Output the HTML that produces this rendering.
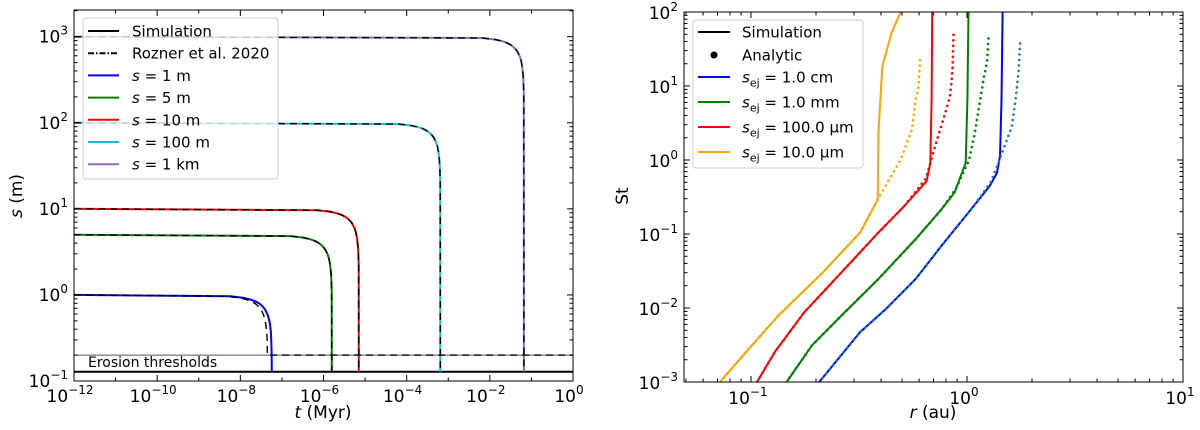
<!DOCTYPE html>
<html><head><meta charset="utf-8">
<style>
html,body{margin:0;padding:0;background:#fff;}
svg{display:block;font-family:"DejaVu Sans","Liberation Sans",sans-serif;}
</style></head>
<body>
<svg id="fig" width="1200" height="430" viewBox="0 0 1200 430" xmlns="http://www.w3.org/2000/svg"></svg>
<script>
// ---------- Left chart data ----------
const leftSeriesNames = ["s = 1 m","s = 5 m","s = 10 m","s = 100 m","s = 1 km"];
const leftColors = ["#0000ff","#008000","#ff0000","#17becf","#9467bd"];
const simLogT = [
  [-12,-8.244,-7.943,-7.767,-7.642,-7.545,-7.466,-7.399,-7.341,-7.315,-7.290,-7.266,-7.257,-7.248,-7.244],
  [-12,-6.80,-6.499,-6.323,-6.198,-6.101,-6.022,-5.955,-5.897,-5.871,-5.846,-5.822,-5.813,-5.804,-5.80],
  [-12,-6.15,-5.849,-5.673,-5.548,-5.451,-5.372,-5.305,-5.247,-5.221,-5.196,-5.172,-5.163,-5.154,-5.15],
  [-12,-4.19,-3.889,-3.713,-3.588,-3.491,-3.412,-3.345,-3.287,-3.261,-3.236,-3.212,-3.203,-3.194,-3.19],
  [-12,-2.18,-1.879,-1.703,-1.578,-1.481,-1.402,-1.335,-1.277,-1.251,-1.226,-1.202,-1.193,-1.184,-1.18]
];
const simS = [
  [1,0.965,0.928,0.888,0.843,0.794,0.737,0.669,0.585,0.531,0.464,0.368,0.311,0.215,0.128],
  [5,4.825,4.64,4.44,4.215,3.97,3.685,3.345,2.925,2.655,2.32,1.84,1.555,1.075,0.128],
  [10,9.65,9.28,8.88,8.43,7.94,7.37,6.69,5.85,5.31,4.64,3.68,3.11,2.15,0.128],
  [100,96.5,92.8,88.8,84.3,79.4,73.7,66.9,58.5,53.1,46.4,36.8,31.1,21.5,0.128],
  [1000,965,928,888,843,794,737,669,585,531,464,368,311,215,0.128]
];
const roznerBlueLogT = [-12,-8.344,-8.043,-7.867,-7.742,-7.645,-7.566,-7.499,-7.441,-7.415,-7.390,-7.366,-7.357,-7.348,0];
const roznerBlueS = [1,0.965,0.928,0.888,0.843,0.794,0.737,0.669,0.585,0.531,0.464,0.368,0.311,0.2,0.2];
const erosionThresholds = [0.2,0.128];
const leftXTicks = [-12,-10,-8,-6,-4,-2,0];
const leftYTicks = [-1,0,1,2,3];

// ---------- Right chart data ----------
const rightSeriesNames = ["1.0 cm","1.0 mm","100.0 µm","10.0 µm"];
const rightSimColors = ["#0000ff","#008000","#ff0000","#ffa500"];
const rightDotColors = ["#1f77b4","#008000","#ff0000","#ffa500"];
const rSimLogR = [
  [-0.684,-0.495,-0.375,-0.238,-0.118,0.019,0.105,0.139,0.153,0.160,0.165],
  [-0.835,-0.718,-0.581,-0.410,-0.238,-0.118,-0.058,-0.006,0.002,0.007],
  [-0.972,-0.890,-0.753,-0.581,-0.410,-0.290,-0.187,-0.170,-0.164,-0.161],
  [-1.144,-1.010,-0.873,-0.667,-0.495,-0.413,-0.410,-0.392,-0.350,-0.307]
];
const rSimLogSt = [
  [-3,-2.326,-2.012,-1.608,-1.160,-0.666,-0.352,-0.172,0.052,0.815,2],
  [-3,-2.506,-2.102,-1.608,-1.070,-0.666,-0.441,-0.038,0.815,2],
  [-3,-2.596,-2.057,-1.518,-0.980,-0.621,-0.285,-0.038,0.815,2],
  [-3,-2.551,-2.102,-1.518,-0.980,-0.531,0.367,1.264,1.713,2]
];
const rAnaLogR = [
  [-0.684,-0.495,-0.375,-0.238,-0.118,0.019,0.110,0.150,0.208,0.225,0.239,0.246],
  [-0.835,-0.718,-0.581,-0.410,-0.238,-0.118,-0.050,0.010,0.036,0.079,0.093,0.100],
  [-0.972,-0.890,-0.753,-0.581,-0.410,-0.290,-0.190,-0.152,-0.101,-0.079,-0.072,-0.067,-0.062],
  [-1.144,-1.010,-0.873,-0.667,-0.495,-0.413,-0.307,-0.255,-0.238,-0.224,-0.217]
];
const rAnaLogSt = [
  [-3,-2.326,-2.012,-1.608,-1.160,-0.666,-0.300,0.000,0.456,0.815,1.197,1.578],
  [-3,-2.506,-2.102,-1.608,-1.070,-0.666,-0.380,0.000,0.367,1.130,1.331,1.677],
  [-3,-2.596,-2.057,-1.518,-0.980,-0.621,-0.250,0.142,0.636,0.860,1.040,1.242,1.726],
  [-3,-2.551,-2.102,-1.518,-0.980,-0.531,0.007,0.411,0.815,0.995,1.354]
];
const rightXTicks = [-1,0,1];
const rightYTicks = [-3,-2,-1,0,1,2];

const NS="http://www.w3.org/2000/svg";
const svg=document.getElementById('fig');
function mk(tag,attrs,parent){const e=document.createElementNS(NS,tag);for(const k in attrs)e.setAttribute(k,attrs[k]);(parent||svg).appendChild(e);return e;}
function pow10Label(g,x,y,exp,anchor){
  const t=mk('text',{x:x,y:y,'font-size':17,'text-anchor':anchor,fill:'#000'},g);
  
  
  t.appendChild(document.createTextNode('10'));
  const s=mk('tspan',{dy:-8,'font-size':12},t);
  s.textContent=(exp<0?'\u2212':'')+Math.abs(exp);
  return t;
}

// ===== LEFT CHART =====
const L={x0:74,x1:573,y0:10,y1:381,xmin:-12,xmax:0,ymin:-1,ymax:3.31};
const lx=v=>L.x0+(v-L.xmin)/(L.xmax-L.xmin)*(L.x1-L.x0);
const ly=s=>L.y1-(Math.log10(s)-L.ymin)/(L.ymax-L.ymin)*(L.y1-L.y0);
const gL=mk('g',{});


const clipL=mk('clipPath',{id:'clipL'},gL);mk('rect',{x:L.x0,y:L.y0,width:L.x1-L.x0,height:L.y1-L.y0},clipL);
const plotL=mk('g',{'clip-path':'url(#clipL)'},gL);
erosionThresholds.forEach((v,i)=>{
  const ln=mk('line',{x1:L.x0,x2:L.x1,y1:ly(v),y2:ly(v),stroke:i==0?'#555':'#000','stroke-width':i==0?1:2},plotL);
  
  
});
const et=mk('text',{x:88,y:367,'font-size':14,fill:'#000'},gL);et.textContent='Erosion thresholds';


simLogT.forEach((arr,i)=>{
  const d=arr.map((t,j)=>(j?'L':'M')+lx(t).toFixed(1)+','+ly(simS[i][j]).toFixed(1)).join('');
  const p=mk('path',{d:d,fill:'none',stroke:leftColors[i],'stroke-width':2,'stroke-linejoin':'round'},plotL);
  
  
});
simLogT.forEach((arr,i)=>{
  let ts=arr,ss=simS[i];
  if(i===0){ts=roznerBlueLogT;ss=roznerBlueS;}
  const d=ts.map((t,j)=>(j?'L':'M')+lx(t).toFixed(1)+','+ly(ss[j]).toFixed(1)).join('');
  const p=mk('path',{d:d,fill:'none',stroke:'#000','stroke-width':1.4,'stroke-dasharray':'7,5'},plotL);
  
  
});
mk('rect',{x:L.x0,y:L.y0,width:L.x1-L.x0,height:L.y1-L.y0,fill:'none',stroke:'#000','stroke-width':1},gL);
for(let e=L.xmin;e<=L.xmax;e++){
  const x=lx(e),len=(e%2===0)?6:3.5;
  mk('line',{x1:x,x2:x,y1:L.y1,y2:L.y1-len,stroke:'#000'},gL);
  mk('line',{x1:x,x2:x,y1:L.y0,y2:L.y0+len,stroke:'#000'},gL);
}
leftXTicks.forEach(e=>pow10Label(gL,lx(e)-4,L.y1+21,e,'middle'));
for(let e=-1;e<=3;e++){
  for(let m=1;m<=9;m++){
    const v=m*Math.pow(10,e);const y=ly(v);if(y<L.y0)continue;
    const len=m===1?6:3.5;
    mk('line',{x1:L.x0,x2:L.x0+len,y1:y,y2:y,stroke:'#000'},gL);
    mk('line',{x1:L.x1,x2:L.x1-len,y1:y,y2:y,stroke:'#000'},gL);
  }
}
leftYTicks.forEach(e=>pow10Label(gL,L.x0-6,ly(Math.pow(10,e))+6,e,'end'));
let t=mk('text',{x:323,y:418,'font-size':17,'text-anchor':'middle'},gL);


t.innerHTML='<tspan font-style="italic">t</tspan> (Myr)';
t=mk('text',{x:0,y:0,'font-size':17,'text-anchor':'middle',transform:'translate(22,196) rotate(-90)'},gL);


t.innerHTML='<tspan font-style="italic">s</tspan> (m)';
const lgL=mk('g',{},gL);


mk('rect',{x:83,y:18,width:195,height:161,rx:3,fill:'#fff','fill-opacity':0.8,stroke:'#ccc'},lgL);
const legL=[['Simulation','#000',''],['Rozner et al. 2020','#000','6,2,1.5,2']].concat(leftSeriesNames.map((n,i)=>[n,leftColors[i],'']));
legL.forEach((it,i)=>{
  const y=31+i*22.2;
  const ln=mk('line',{x1:88,x2:119,y1:y,y2:y,stroke:it[1],'stroke-width':2,'stroke-dasharray':it[2]},lgL);
  
  
  const tx=mk('text',{x:132,y:y+5.5,'font-size':15},lgL);
  
  
  if(i>=2){const parts=it[0].split(' = ');tx.innerHTML='<tspan font-style="italic">s</tspan> = '+parts[1];}
  else tx.textContent=it[0];
});

// ===== RIGHT CHART =====
const R={x0:684,x1:1183,y0:12,y1:382,xmin:-1.31,xmax:1,ymin:-3,ymax:2};
const rx=v=>R.x0+(v-R.xmin)/(R.xmax-R.xmin)*(R.x1-R.x0);
const ry=v=>R.y1-(v-R.ymin)/(R.ymax-R.ymin)*(R.y1-R.y0);
const gR=mk('g',{});


const clipR=mk('clipPath',{id:'clipR'},gR);mk('rect',{x:R.x0,y:R.y0,width:R.x1-R.x0,height:R.y1-R.y0},clipR);
const plotR=mk('g',{'clip-path':'url(#clipR)'},gR);
rSimLogR.forEach((arr,i)=>{
  const d=arr.map((v,j)=>(j?'L':'M')+rx(v).toFixed(1)+','+ry(rSimLogSt[i][j]).toFixed(1)).join('');
  const p=mk('path',{d:d,fill:'none',stroke:rightSimColors[i],'stroke-width':2,'stroke-linejoin':'round'},plotR);
  
  
});
rAnaLogR.forEach((arr,i)=>{
  const d=arr.map((v,j)=>(j?'L':'M')+rx(v).toFixed(1)+','+ry(rAnaLogSt[i][j]).toFixed(1)).join('');
  const p=mk('path',{d:d,fill:'none',stroke:rightDotColors[i],'stroke-width':2.6,'stroke-linecap':'round','stroke-dasharray':'0,5.5'},plotR);
  
  
});
mk('rect',{x:R.x0,y:R.y0,width:R.x1-R.x0,height:R.y1-R.y0,fill:'none',stroke:'#000'},gR);
for(let e=-2;e<=0;e++){
  for(let m=1;m<=9;m++){
    const v=Math.log10(m)+e;if(v<R.xmin||v>R.xmax)continue;const x=rx(v);const len=m===1?6:3.5;
    mk('line',{x1:x,x2:x,y1:R.y1,y2:R.y1-len,stroke:'#000'},gR);
    mk('line',{x1:x,x2:x,y1:R.y0,y2:R.y0+len,stroke:'#000'},gR);
  }
}
rightXTicks.forEach(e=>pow10Label(gR,rx(e)-3,R.y1+22,e,'middle'));
for(let e=-3;e<=2;e++){
  for(let m=1;m<=9;m++){
    const v=Math.log10(m)+e;if(v>R.ymax)continue;const y=ry(v);const len=m===1?6:3.5;
    mk('line',{x1:R.x0,x2:R.x0+len,y1:y,y2:y,stroke:'#000'},gR);
    mk('line',{x1:R.x1,x2:R.x1-len,y1:y,y2:y,stroke:'#000'},gR);
  }
}
rightYTicks.forEach(e=>pow10Label(gR,R.x0-6,ry(e)+7,e,'end'));
t=mk('text',{x:933,y:418,'font-size':17,'text-anchor':'middle'},gR);


t.innerHTML='<tspan font-style="italic">r</tspan> (au)';
t=mk('text',{x:0,y:0,'font-size':17,'text-anchor':'middle',transform:'translate(628,196) rotate(-90)'},gR);


t.textContent='St';
const lgR=mk('g',{},gR);


mk('rect',{x:693,y:20,width:170,height:148,rx:3,fill:'#fff','fill-opacity':0.8,stroke:'#ccc'},lgR);
const rowsY=[32,55,77,102,127,152];
['Simulation','Analytic'].concat(rightSeriesNames).forEach((n,i)=>{
  const y=rowsY[i];
  if(i===1){mk('circle',{cx:714,cy:y,r:3.5,fill:'#000'},lgR);}
  else{
    const ln=mk('line',{x1:698,x2:730,y1:y,y2:y,stroke:i===0?'#000':rightSimColors[i-2],'stroke-width':2},lgR);
    
    
  }
  const tx=mk('text',{x:742,y:y+5.5,'font-size':15},lgR);
  
  
  if(i<2)tx.textContent=n;
  else tx.innerHTML='<tspan font-style="italic">s</tspan><tspan font-size="11" dy="4">ej</tspan><tspan dy="-4"> = </tspan> '+n;
});
</script>
</body></html>
